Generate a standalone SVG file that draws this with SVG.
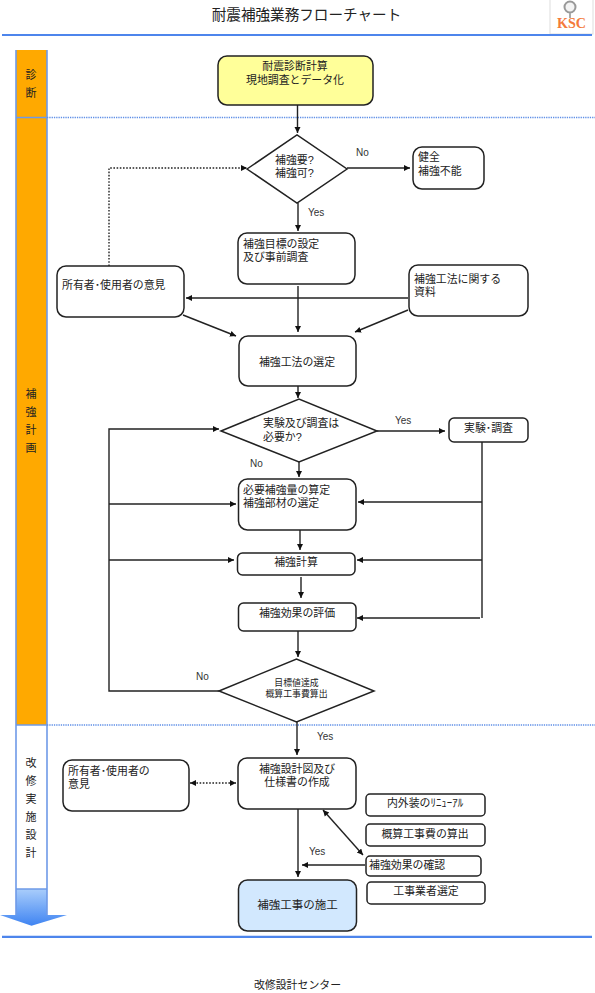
<svg xmlns="http://www.w3.org/2000/svg" width="595" height="993" viewBox="0 0 595 993">
<style>
text{font-family:"Liberation Sans","Noto Sans CJK JP",sans-serif;font-size:10.9px;fill:#222}
.m{text-anchor:middle}
.l{font-family:"Liberation Sans",sans-serif;font-size:10px;fill:#333}
.lane{font-size:11px;text-anchor:middle}
.n{fill:#fff;stroke:#222;stroke-width:1.5}
.c{fill:none;stroke:#222;stroke-width:1.4}
.a{marker-end:url(#ar)}
.d{stroke-dasharray:1.6 1.6}
.rule{stroke:#4d85ec;stroke-width:2.2;fill:none}
.sep{stroke:#5f8fe6;stroke-width:1.4;stroke-dasharray:1.3 1;fill:none}
</style>
<defs>
<marker id="ar" markerWidth="7" markerHeight="7" refX="6" refY="3" orient="auto" markerUnits="userSpaceOnUse"><path d="M0 0L6 3L0 6Z" fill="#111"/></marker>
<marker id="as" markerWidth="7" markerHeight="7" refX="0" refY="3" orient="auto" markerUnits="userSpaceOnUse"><path d="M6 0L0 3L6 6Z" fill="#111"/></marker>
<linearGradient id="g" x1="0" y1="0" x2="0" y2="1"><stop offset="0" stop-color="#a9cdfb"/><stop offset="1" stop-color="#3f84f2"/></linearGradient>
</defs>

<g id="header">
<rect x="550" y="-1" width="43" height="35" fill="#fff" stroke="#ddd" stroke-width="1"/>
<circle cx="570" cy="7" r="5.500" fill="#f4f4f4" stroke="#999" stroke-width="2"/>
<path d="M570 13V18" stroke="#aaa" stroke-width="2"/>
<text x="557" y="27.500" textLength="29" lengthAdjust="spacingAndGlyphs" style="font-family:'Liberation Serif',serif;font-weight:bold;font-size:14.500px;fill:#f47a3a">KSC</text>
<text x="306.500" y="20" class="m" style="font-size:14.6px">耐震補強業務フローチャート</text>
<path class="rule" d="M2 35H592"/>
<path class="rule" d="M2 936.800H592"/>
<text x="297.500" y="989" class="m">改修設計センター</text>
</g>

<g id="lanes">
<rect x="16" y="50" width="31" height="675" fill="#ffa900"/>
<rect x="16" y="725" width="31" height="164" fill="#fff"/>
<path d="M16 889H47V915H67L31.500 925.700L0 915H16Z" fill="url(#g)"/>
<path d="M16 50V915M47 50V915M16 117.500H47M16 725H47M16 889H47" fill="none" stroke="#6f9ae8" stroke-width="1.600"/>
<path class="sep" d="M47 117.500H595M47 725H595"/>
<text x="31" y="79" class="lane">診</text><text x="31" y="97" class="lane">断</text>
<text x="31" y="398" class="lane">補</text><text x="31" y="416" class="lane">強</text><text x="31" y="434" class="lane">計</text><text x="31" y="452" class="lane">画</text>
<text x="31" y="767" class="lane">改</text><text x="31" y="785" class="lane">修</text><text x="31" y="803" class="lane">実</text><text x="31" y="821" class="lane">施</text><text x="31" y="839" class="lane">設</text><text x="31" y="857" class="lane">計</text>
</g>

<g id="connectors">
<path class="c a" d="M297.500 105V133"/>
<path class="c a" d="M347 168H410"/>
<path class="c a" d="M298 203V231"/>
<path class="c a d" d="M109 266V168H247"/>
<path class="c a" d="M298 286V332"/>
<path class="c a" d="M408 298H186"/>
<path class="c a" d="M183 315L236 336"/>
<path class="c a" d="M408 310L355 332"/>
<path class="c a" d="M298 386V398"/>
<path class="c a" d="M219 691H109V429H219"/>
<path class="c a" d="M109 504H236"/>
<path class="c a" d="M109 560H234"/>
<path class="c a" d="M377 431H445"/>
<path class="c a" d="M299 462V477"/>
<path class="c a" d="M300 530V550"/>
<path class="c a" d="M301 577V598"/>
<path class="c a" d="M298 631V657"/>
<path class="c" d="M482 442V618"/>
<path class="c a" d="M482 502H358"/>
<path class="c a" d="M482 560H357"/>
<path class="c a" d="M480 618H357"/>
<path class="c a" d="M297 722V755"/>
<path class="c a d" style="marker-start:url(#as)" d="M190 783H236"/>
<path class="c a" d="M298 809V877"/>
<path class="c a" style="marker-start:url(#as)" d="M323 810L363 855"/>
<path class="c a" d="M365 865H302"/>
<text class="l" x="356" y="156">No</text>
<text class="l" x="308" y="216">Yes</text>
<text class="l" x="395" y="424">Yes</text>
<text class="l" x="250" y="467">No</text>
<text class="l" x="196" y="680">No</text>
<text class="l" x="317" y="740">Yes</text>
<text class="l" x="309" y="855">Yes</text>
</g>

<g id="n1"><rect class="n" x="218" y="56" width="155" height="49" rx="9" style="fill:#ffff99"/><text class="m"><tspan x="295" y="70">耐震診断計算</tspan><tspan x="295" y="84">現地調査とデータ化</tspan></text></g>
<g id="n2"><path class="n" d="M247 169L297 135L347 169L297 203Z"/><text><tspan x="275" y="164">補強要?</tspan><tspan x="275" y="177">補強可?</tspan></text></g>
<g id="n3"><rect class="n" x="413" y="147" width="71" height="42" rx="9"/><text><tspan x="418" y="161">健全</tspan><tspan x="418" y="175">補強不能</tspan></text></g>
<g id="n4"><rect class="n" x="238" y="233" width="117" height="51" rx="9"/><text><tspan x="243" y="248">補強目標の設定</tspan><tspan x="243" y="261">及び事前調査</tspan></text></g>
<g id="n5"><rect class="n" x="57" y="266" width="127" height="51" rx="9"/><text x="62" y="289">所有者･使用者の意見</text></g>
<g id="n6"><rect class="n" x="409" y="265" width="119" height="51" rx="9"/><text><tspan x="414" y="283">補強工法に関する</tspan><tspan x="414" y="296">資料</tspan></text></g>
<g id="n7"><rect class="n" x="239" y="336" width="117" height="50" rx="9"/><text class="m" x="297" y="366">補強工法の選定</text></g>
<g id="n8"><path class="n" d="M221 431L299 399L377 431L299 462Z"/><text><tspan x="263" y="427">実験及び調査は</tspan><tspan x="263" y="441">必要か?</tspan></text></g>
<g id="n9"><rect class="n" x="449" y="418" width="79" height="24" rx="5"/><text class="m" x="488.500" y="431.500">実験･調査</text></g>
<g id="n10"><rect class="n" x="238.500" y="479" width="117.500" height="51" rx="9"/><text><tspan x="243" y="494">必要補強量の算定</tspan><tspan x="243" y="507">補強部材の選定</tspan></text></g>
<g id="n11"><rect class="n" x="237.500" y="553" width="117.500" height="22" rx="5"/><text class="m" x="296" y="566">補強計算</text></g>
<g id="n12"><rect class="n" x="238.500" y="603" width="117.500" height="28" rx="5"/><text class="m" x="297" y="617">補強効果の評価</text></g>
<g id="n13"><path class="n" d="M219 691L296.500 659L374 691L296.500 722Z"/><text class="m" style="font-size:8.900px"><tspan x="296.500" y="686">目標値達成</tspan><tspan x="296.500" y="697">概算工事費算出</tspan></text></g>
<g id="n14"><rect class="n" x="238" y="758" width="118" height="51" rx="9"/><text class="m"><tspan x="297" y="773">補強設計図及び</tspan><tspan x="297" y="786">仕様書の作成</tspan></text></g>
<g id="n15"><rect class="n" x="63" y="760" width="126" height="51" rx="9"/><text><tspan x="68" y="775">所有者･使用者の</tspan><tspan x="68" y="788">意見</tspan></text></g>
<g id="n16"><rect class="n" x="238.500" y="880" width="118" height="51" rx="9" style="fill:#d2e8fe"/><text class="m" x="297.500" y="909" style="font-size:11.500px">補強工事の施工</text></g>
<g id="n17"><rect class="n" x="366" y="794" width="119" height="22" rx="4"/><text class="m" x="425" y="807">内外装のﾘﾆｭｰｱﾙ</text></g>
<g id="n18"><rect class="n" x="366" y="824" width="119" height="22" rx="4"/><text class="m" x="425" y="838">概算工事費の算出</text></g>
<g id="n19"><rect class="n" x="366" y="856" width="115" height="20" rx="4"/><text x="369" y="869">補強効果の確認</text></g>
<g id="n20"><rect class="n" x="367" y="882" width="118" height="22" rx="4"/><text class="m" x="426" y="895">工事業者選定</text></g>
</svg>
